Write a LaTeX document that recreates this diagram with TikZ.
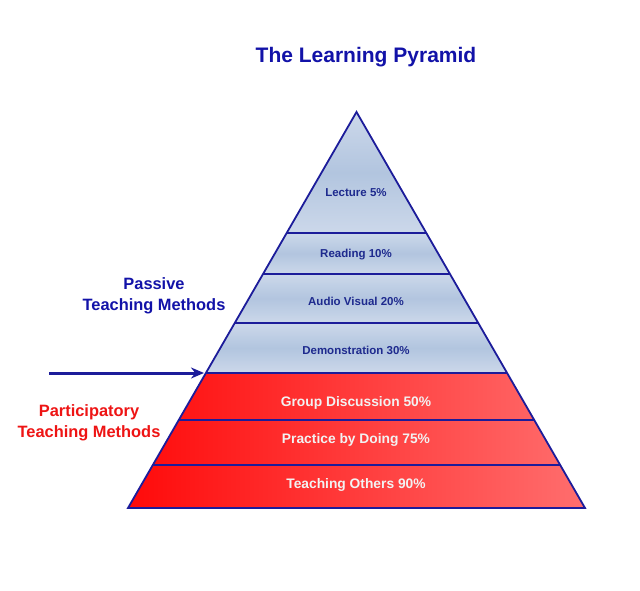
\documentclass[tikz,border=0pt]{standalone}
\usepackage{fontspec}
\setmainfont{Liberation Sans}
\usetikzlibrary{arrows.meta}
\definecolor{edgeblue}{HTML}{1C1C9A}
\definecolor{titleblue}{HTML}{1212A8}
\definecolor{labelblue}{HTML}{1E2A8E}
\definecolor{bandtop}{HTML}{CCD8EA}
\definecolor{bandmid}{HTML}{B2C5DF}
\definecolor{redleft}{HTML}{FF0A0A}
\definecolor{redright}{HTML}{FF6E6E}
\definecolor{parttext}{HTML}{EE1414}
\begin{document}
\begin{tikzpicture}[x=1pt,y=-1pt,
  blueband/.style={top color=bandtop,bottom color=bandtop,middle color=bandmid},
  divider/.style={draw=edgeblue,line width=1.2pt},
  bandlabel/.style={font=\bfseries\fontsize{11.5}{14}\selectfont,text=labelblue},
  redlabel/.style={font=\bfseries\fontsize{13.8}{16}\selectfont,text=white!95!black},
  sidelabel/.style={font=\bfseries\fontsize{16.4}{20.5}\selectfont,align=center}]
\useasboundingbox (0,0) rectangle (640,590);
\fill[white] (0,0) rectangle (640,590);
% blue bands
\shade[blueband] (356.5,112) -- (426.3,233) -- (286.7,233) -- cycle;
\shade[blueband] (286.7,233) -- (426.3,233) -- (450,274) -- (263,274) -- cycle;
\shade[blueband] (263,274) -- (450,274) -- (478.2,323) -- (234.8,323) -- cycle;
\shade[blueband] (234.8,323) -- (478.2,323) -- (507.1,373) -- (205.9,373) -- cycle;
% red part
\shade[left color=redleft,right color=redright] (205.9,373) -- (507.1,373) -- (585,508) -- (128,508) -- cycle;
% dividers
\draw[divider] (286.7,233) -- (426.3,233);
\draw[divider] (263,274) -- (450,274);
\draw[divider] (234.8,323) -- (478.2,323);
\draw[divider] (205.9,373) -- (507.1,373);
\draw[divider] (178.8,420) -- (534.2,420);
\draw[divider] (152.8,465) -- (560.2,465);
% outline
\draw[edgeblue,line width=1.8pt,line join=miter] (356.5,112) -- (585,508) -- (128,508) -- cycle;
% labels
\node[bandlabel] (l1) at (356,193) {Lecture 5\%};
\node[bandlabel] (l2) at (356,255) {Reading 10\%};
\node[bandlabel] (l3) at (356,301) {Audio Visual 20\%};
\node[bandlabel] (l4) at (356,350) {Demonstration 30\%};
\node[redlabel] (l5) at (356,403) {Group Discussion 50\%};
\node[redlabel] (l6) at (356,440) {Practice by Doing 75\%};
\node[redlabel] (l7) at (356,485) {Teaching Others 90\%};
\node[font=\bfseries\fontsize{21}{25}\selectfont,text=titleblue] (title) at (366,57) {The Learning Pyramid};
\node[sidelabel,text=titleblue] (passive) at (154,296) {Passive\\Teaching Methods};
\node[sidelabel,text=parttext] (particip) at (89,423) {Participatory\\Teaching Methods};
% arrow
\coordinate (astart) at (49,373);
\coordinate (aend) at (204,373);
\draw[edgeblue,line width=3pt,-{Stealth[length=13pt,width=11pt]}] (astart) -- (aend);
\end{tikzpicture}
\end{document}
